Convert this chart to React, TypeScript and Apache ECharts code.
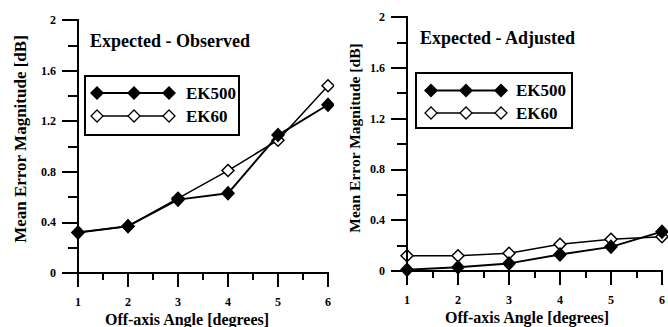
import React, { useEffect, useRef } from "react";
import * as echarts from "echarts";

const angles = [1, 2, 3, 4, 5, 6];
const observedEK500 = [0.32, 0.37, 0.58, 0.63, 1.09, 1.33];
const observedEK60 = [0.32, 0.37, 0.59, 0.81, 1.05, 1.48];
const adjustedEK500 = [0.01, 0.03, 0.06, 0.13, 0.19, 0.31];
const adjustedEK60 = [0.12, 0.12, 0.14, 0.21, 0.25, 0.27];
const seriesNames = ["EK500", "EK60"];
const panelTitles = ["Expected - Observed", "Expected - Adjusted"];
const xAxisTitle = "Off-axis Angle [degrees]";
const yAxisTitle = "Mean Error Magnitude [dB]";
const yTickLabels = ["0", "0.4", "0.8", "1.2", "1.6", "2"];

const FONT = "'Liberation Serif', 'DejaVu Serif', serif";

function xAxisOpt(show: boolean) {
  return {
    type: "value",
    min: 1,
    max: 6,
    interval: 1,
    z: 6,
    axisLine: { show: true, onZero: false, lineStyle: { color: "#000", width: 2 } },
    axisTick: { show: true, length: 14, lineStyle: { color: "#000", width: 2 } },
    minorTick: { show: true, splitNumber: 2, length: 7, lineStyle: { color: "#000", width: 2 } },
    splitLine: { show: false },
    axisLabel: { show, color: "#000", fontFamily: FONT, fontWeight: "bold", fontSize: 12, margin: 23 },
  };
}

function yAxisOpt(show: boolean) {
  return {
    type: "value",
    min: 0,
    max: 2,
    interval: 0.4,
    z: 6,
    axisLine: { show: true, lineStyle: { color: "#000", width: 2 } },
    axisTick: { show: true, length: 16, lineStyle: { color: "#000", width: 2 } },
    minorTick: { show: true, splitNumber: 2, length: 10, lineStyle: { color: "#000", width: 2 } },
    splitLine: { show: false },
    axisLabel: {
      show,
      color: "#000",
      fontFamily: FONT,
      fontWeight: "bold",
      fontSize: 12,
      margin: 22,
      formatter: (v: number) => yTickLabels[Math.round(v / 0.4)],
    },
  };
}

function seriesPair(ek500: number[], ek60: number[]) {
  return [
    {
      name: seriesNames[1],
      type: "line",
      data: angles.map((a, i) => [a, ek60[i]]),
      symbol: "diamond",
      symbolSize: [12, 12],
      lineStyle: { color: "#000", width: 1.5 },
      itemStyle: { color: "#fff", borderColor: "#000", borderWidth: 1.5 },
      z: 2,
    },
    {
      name: seriesNames[0],
      type: "line",
      data: angles.map((a, i) => [a, ek500[i]]),
      symbol: "diamond",
      symbolSize: [14, 15],
      lineStyle: { color: "#000", width: 2 },
      itemStyle: { color: "#000", borderColor: "#000", borderWidth: 0 },
      z: 3,
    },
  ];
}

function diamond(cx: number, cy: number, r: number, filled: boolean) {
  return {
    type: "polygon",
    shape: { points: [[cx, cy - r], [cx + r, cy], [cx, cy + r], [cx - r, cy]] },
    style: { fill: filled ? "#000" : "#fff", stroke: "#000", lineWidth: filled ? 0 : 1.3 },
    z: 10,
  };
}

function legendGroup(box: { x: number; y: number; w: number; h: number }, mx: number[], y1: number, y2: number, tx: number) {
  const els: any[] = [
    { type: "rect", shape: { x: box.x, y: box.y, width: box.w, height: box.h }, style: { fill: "#fff", stroke: "#000", lineWidth: 2 }, z: 9 },
    { type: "line", shape: { x1: mx[0], y1, x2: mx[2], y2: y1 }, style: { stroke: "#000", lineWidth: 2 }, z: 10 },
    { type: "line", shape: { x1: mx[0], y1: y2, x2: mx[2], y2 }, style: { stroke: "#000", lineWidth: 1.5 }, z: 10 },
  ];
  mx.forEach((x) => {
    els.push(diamond(x, y1, 7, true));
    els.push(diamond(x, y2, 6, false));
  });
  [seriesNames[0], seriesNames[1]].forEach((name, i) => {
    els.push({
      type: "text",
      x: tx,
      y: i === 0 ? y1 : y2,
      style: { text: name, fill: "#000", font: `bold 17px ${FONT}`, textVerticalAlign: "middle", textAlign: "left" },
      z: 10,
    });
  });
  return els;
}

function textEl(text: string, x: number, y: number, size: number, rotation = 0, align = "center") {
  return {
    type: "text",
    x,
    y,
    rotation,
    style: { text, fill: "#000", font: `bold ${size}px ${FONT}`, textAlign: align, textVerticalAlign: "middle" },
    z: 10,
  };
}

function Panel({ idx }: { idx: number }) {
  const ref = useRef<HTMLDivElement>(null);
  useEffect(() => {
    if (!ref.current) return;
    const chart = echarts.init(ref.current, undefined, { renderer: "svg" });
    const left = idx === 0;
    const grid = left ? { left: 78, top: 20, width: 255, height: 253 } : { left: 73, top: 17, width: 255, height: 254 };
    chart.setOption({
      animation: false,
      grid,
      xAxis: [xAxisOpt(true), { ...xAxisOpt(false), position: "bottom" }],
      yAxis: [yAxisOpt(true), { ...yAxisOpt(false), position: "left" }],
      series: left ? seriesPair(observedEK500, observedEK60) : seriesPair(adjustedEK500, adjustedEK60),
      graphic: left
        ? [
            textEl(panelTitles[0], 90, 41, 18, 0, "left"),
            textEl(xAxisTitle, 187, 319, 16),
            textEl(yAxisTitle, 20, 139, 17, Math.PI / 2),
            ...legendGroup({ x: 85, y: 76, w: 154, h: 59 }, [97, 134, 169], 93, 116, 186),
          ]
        : [
            textEl(panelTitles[1], 86, 38, 18, 0, "left"),
            textEl(xAxisTitle, 193, 317, 16),
            textEl(yAxisTitle, 20, 138, 15.5, Math.PI / 2),
            ...legendGroup({ x: 82, y: 73, w: 156, h: 55 }, [97, 132, 167], 90.5, 113, 182),
          ],
    });
    return () => chart.dispose();
  }, [idx]);
  return <div ref={ref} style={{ width: 334, height: 327 }} />;
}

export default function App() {
  useEffect(() => {
    document.body.style.margin = "0";
  }, []);
  return (
    <div style={{ width: 668, height: 327, display: "flex", background: "#fff" }}>
      <Panel idx={0} />
      <Panel idx={1} />
    </div>
  );
}
